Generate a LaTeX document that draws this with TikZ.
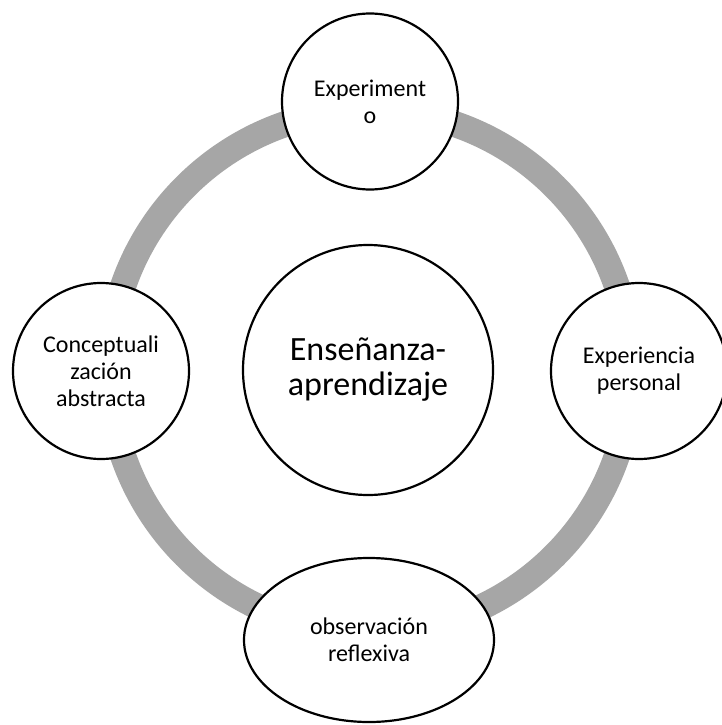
\documentclass[tikz,border=0pt]{standalone}
\usepackage{fontspec}
\setmainfont{Carlito}
\usetikzlibrary{shapes.geometric}
\definecolor{ringgray}{RGB}{166,166,166}
\begin{document}
\begin{tikzpicture}[x=1pt,y=-1pt,
  phase/.style={circle,draw=black,line width=2.2pt,fill=white,minimum size=176pt,inner sep=0pt,align=center,font=\fontsize{24}{27}\selectfont},
  hub/.style={circle,draw=black,line width=2.2pt,fill=white,minimum size=250pt,inner sep=0pt,align=center,font=\fontsize{34}{35}\selectfont},
  oval/.style={ellipse,draw=black,line width=2.2pt,fill=white,minimum width=250pt,minimum height=164pt,inner sep=0pt,align=center,font=\fontsize{24}{27}\selectfont},
  cycle/.style={draw=ringgray,line width=26pt}]
\useasboundingbox (0,0) rectangle (721,725);
\fill[white] (0,0) rectangle (721,725);
\coordinate (c) at (370,371);
\draw[cycle] (c) circle[radius=261pt];
\node[hub] (center) at (368,370) {Enseñanza-\\aprendizaje};
\node[phase] (top) at (370,101.5) {Experiment\\o};
\node[phase] (right) at (639,371) {Experiencia\\personal};
\node[phase] (left) at (101,371) {Conceptuali\\zación\\abstracta};
\node[oval] (bottom) at (369,640) {observación\\reflexiva};
\end{tikzpicture}
\end{document}
